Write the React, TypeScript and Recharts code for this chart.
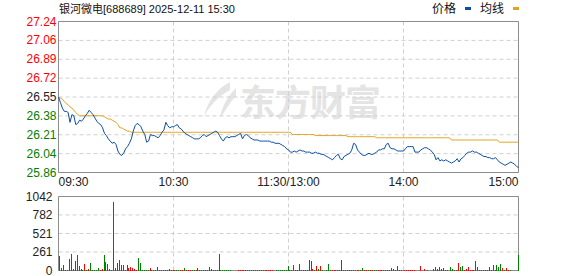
import React from 'react';
import { ComposedChart, Line, Bar, XAxis, YAxis, CartesianGrid, ReferenceArea } from 'recharts';

const title = '银河微电[688689] 2025-12-11 15:30';
const prevClose = 26.55;
const pctRange = 0.0258;
const priceLabels = ['25.86', '26.04', '26.21', '26.38', '26.55', '26.72', '26.89', '27.06', '27.24'];
const pctLabels = ['2.58%', '1.94%', '1.29%', '0.65%', '0.00%', '0.65%', '1.29%', '1.94%', '2.58%'];
const timeTicks = [0, 60, 120, 180, 240];
const timeLabels = ['09:30', '10:30', '11:30/13:00', '14:00', '15:00'];
const volTicks = [0, 261, 521, 782, 1042];

// minute prices, 09:30 .. 15:00 (241 points)
const price = [
  26.55, 26.50, 26.45, 26.42, 26.42, 26.41, 26.32, 26.39, 26.38, 26.30,
  26.31, 26.34, 26.33, 26.35, 26.38, 26.40, 26.43, 26.41, 26.39, 26.36,
  26.33, 26.31, 26.30, 26.27, 26.22, 26.20, 26.17, 26.15, 26.13, 26.14,
  26.12, 26.06, 26.03, 26.02, 26.04, 26.08, 26.10, 26.13, 26.17, 26.24,
  26.29, 26.31, 26.30, 26.28, 26.24, 26.21, 26.14, 26.15, 26.21, 26.20,
  26.20, 26.19, 26.18, 26.20, 26.23, 26.25, 26.32, 26.29, 26.27, 26.28,
  26.28, 26.29, 26.30, 26.27, 26.26, 26.24, 26.22, 26.21, 26.20, 26.19,
  26.18, 26.17, 26.17, 26.17, 26.18, 26.20, 26.21, 26.19, 26.20, 26.21,
  26.22, 26.23, 26.24, 26.23, 26.20, 26.17, 26.15, 26.18, 26.19, 26.18,
  26.19, 26.19, 26.19, 26.20, 26.21, 26.22, 26.17, 26.20, 26.21, 26.20,
  26.18, 26.17, 26.16, 26.16, 26.16, 26.15, 26.15, 26.15, 26.15, 26.15,
  26.15, 26.14, 26.14, 26.13, 26.13, 26.13, 26.12, 26.11, 26.10, 26.08,
  26.07, 26.05, 26.05, 26.06, 26.05, 26.06, 26.07, 26.06, 26.06, 26.05,
  26.05, 26.05, 26.04, 26.04, 26.05, 26.04, 26.04, 26.03, 26.03, 26.02,
  26.01, 26.00, 25.99, 25.98, 26.00, 26.02, 26.03, 25.99, 25.98, 26.01,
  26.02, 26.03, 26.04, 26.07, 26.13, 26.12, 26.07, 26.05, 26.03, 26.02,
  26.02, 26.03, 26.04, 26.03, 26.03, 26.04, 26.05, 26.07, 26.07, 26.08,
  26.08, 26.12, 26.13, 26.09, 26.08, 26.08, 26.07, 26.06, 26.06, 26.06,
  26.06, 26.08, 26.10, 26.10, 26.10, 26.10, 26.05, 26.05, 26.05, 26.07,
  26.08, 26.09, 26.09, 26.08, 26.07, 26.05, 26.03, 25.98, 26.00, 25.97,
  25.98, 25.97, 25.98, 25.97, 25.96, 25.95, 25.96, 25.97, 25.99, 25.96,
  25.99, 26.00, 26.02, 26.04, 26.05, 26.05, 26.06, 26.05, 26.05, 26.04,
  26.03, 26.02, 26.01, 26.01, 26.00, 26.00, 25.99, 25.99, 26.00, 25.98,
  25.96, 25.95, 25.94, 25.93, 25.94, 25.95, 25.96, 25.95, 25.94, 25.92,
  25.91,
];

const avgPrice = [
  26.55, 26.54, 26.53, 26.51, 26.49, 26.48, 26.46, 26.45, 26.43, 26.41,
  26.39, 26.38, 26.38, 26.38, 26.38, 26.38, 26.38, 26.38, 26.38, 26.38,
  26.38, 26.38, 26.38, 26.38, 26.37, 26.36, 26.35, 26.35, 26.34, 26.33,
  26.32, 26.30, 26.27, 26.27, 26.26, 26.25, 26.24, 26.24, 26.23, 26.23,
  26.23, 26.23, 26.23, 26.23, 26.23, 26.23, 26.23, 26.23, 26.23, 26.23,
  26.23, 26.23, 26.23, 26.23, 26.23, 26.23, 26.23, 26.23, 26.23, 26.23,
  26.23, 26.23, 26.23, 26.23, 26.23, 26.23, 26.23, 26.23, 26.23, 26.23,
  26.23, 26.23, 26.23, 26.23, 26.23, 26.23, 26.23, 26.23, 26.23, 26.23,
  26.23, 26.23, 26.23, 26.23, 26.23, 26.23, 26.23, 26.23, 26.23, 26.23,
  26.23, 26.23, 26.23, 26.23, 26.23, 26.23, 26.23, 26.23, 26.23, 26.23,
  26.23, 26.23, 26.23, 26.23, 26.23, 26.23, 26.23, 26.23, 26.23, 26.23,
  26.23, 26.23, 26.23, 26.23, 26.23, 26.23, 26.23, 26.23, 26.23, 26.23,
  26.23, 26.23, 26.21, 26.21, 26.21, 26.21, 26.21, 26.21, 26.21, 26.21,
  26.21, 26.21, 26.21, 26.21, 26.20, 26.20, 26.20, 26.20, 26.20, 26.20,
  26.20, 26.20, 26.20, 26.20, 26.20, 26.20, 26.20, 26.20, 26.20, 26.20,
  26.20, 26.19, 26.19, 26.19, 26.19, 26.19, 26.19, 26.19, 26.19, 26.19,
  26.19, 26.19, 26.19, 26.19, 26.19, 26.19, 26.18, 26.18, 26.18, 26.18,
  26.18, 26.18, 26.18, 26.18, 26.18, 26.18, 26.18, 26.18, 26.18, 26.18,
  26.18, 26.18, 26.18, 26.18, 26.18, 26.18, 26.18, 26.18, 26.18, 26.18,
  26.18, 26.18, 26.18, 26.18, 26.18, 26.18, 26.18, 26.18, 26.18, 26.18,
  26.18, 26.18, 26.18, 26.18, 26.18, 26.16, 26.16, 26.16, 26.16, 26.16,
  26.16, 26.16, 26.16, 26.16, 26.16, 26.16, 26.16, 26.16, 26.16, 26.16,
  26.16, 26.16, 26.16, 26.16, 26.16, 26.16, 26.16, 26.16, 26.16, 26.16,
  26.14, 26.14, 26.14, 26.14, 26.14, 26.14, 26.14, 26.14, 26.14, 26.14,
  26.14,
];

const volume = [
  0, 199, 33, 71, 14, 14, 156, 227, 24, 128,
  213, 62, 24, 14, 85, 14, 24, 104, 14, 14,
  14, 33, 14, 24, 213, 118, 90, 24, 14, 971,
  33, 99, 142, 71, 71, 14, 71, 33, 47, 33,
  24, 14, 175, 99, 14, 14, 14, 14, 33, 14,
  14, 14, 47, 14, 14, 14, 14, 14, 24, 14,
  14, 14, 14, 14, 14, 14, 33, 14, 14, 14,
  14, 14, 14, 33, 14, 14, 14, 14, 14, 47,
  24, 14, 14, 14, 227, 14, 14, 14, 14, 14,
  14, 0, 0, 0, 14, 14, 14, 14, 14, 14,
  14, 14, 14, 14, 14, 14, 14, 14, 14, 14,
  14, 14, 14, 0, 14, 14, 14, 14, 14, 14,
  62, 14, 14, 71, 14, 14, 85, 14, 14, 14,
  14, 142, 128, 24, 14, 62, 24, 62, 14, 0,
  14, 85, 14, 14, 14, 14, 14, 14, 142, 14,
  14, 14, 14, 14, 14, 14, 14, 14, 14, 33,
  14, 14, 14, 14, 14, 14, 14, 14, 14, 14,
  14, 14, 14, 14, 38, 24, 14, 62, 14, 14,
  0, 14, 14, 14, 14, 14, 14, 0, 0, 62,
  0, 24, 0, 14, 0, 0, 24, 47, 24, 47,
  24, 33, 14, 14, 0, 47, 24, 14, 14, 104,
  47, 62, 14, 24, 47, 14, 14, 14, 128, 47,
  14, 14, 14, 14, 14, 47, 14, 71, 14, 71,
  47, 85, 33, 14, 33, 14, 14, 0, 0, 0,
  213,
];

// r = traded up, g = traded down
const volSide = [
  'ggrrgggrgg', 'rrggrgrggg', 'ggrrggggrr', 'ggrrrggrrr', 'rrggggggrr',
  'ggrrrgrrgg', 'rrggrrgrrr', 'ggrgrrrgrr', 'rrgrgggggg', 'ggggrrrrrr',
  'rrrrrrrrrr', 'rrrggggggg', 'ggrrrgrgrg', 'gggrgrgrgg', 'gggrrrrrgr',
  'grrgrgrrgg', 'rrgrrggrrr', 'grrggrrggg', 'grrrrrrrrr', 'rrgggggggg',
  'rgrrggggrr', 'ggrrrrrrgg', 'rrrrrgrgrg', 'ggrgrrgggg', 'g',
].join('');

const minuteData = price.map((p, i) => ({
  t: i,
  price: p,
  avg: avgPrice[i],
  vol: volume[i],
  side: volSide[i],
}));

const lo = prevClose * (1 - pctRange);
const hi = prevClose * (1 + pctRange);
const priceTicks = priceLabels.map((_, i) => lo + ((hi - lo) * i) / (priceLabels.length - 1));

const RED = '#ff0000';
const GREEN = '#008000';
const FONT = '"Liberation Sans", Arial, sans-serif';
const CJK = '"Noto Sans CJK SC", sans-serif';

const labelColor = (i: number, mid: number) => (i > mid ? RED : i < mid ? GREEN : '#222');

const PriceTick = ({ x, y, index }: any) => (
  <text x={x} y={y} dy={4} textAnchor="end" fontSize={12} fontFamily={FONT} fill={labelColor(index, 4)}>
    {priceLabels[index]}
  </text>
);

const PctTick = ({ x, y, index }: any) => (
  <text x={x} y={y} dy={4} textAnchor="start" fontSize={12} fontFamily={FONT} fill={labelColor(index, 4)}>
    {pctLabels[index]}
  </text>
);

const TimeTick = ({ x, y, index }: any) => {
  const anchor = index === 0 ? 'start' : index === timeLabels.length - 1 ? 'end' : 'middle';
  return (
    <text x={x} y={y} dy={13} textAnchor={anchor} fontSize={12} fontFamily={FONT} fill="#222">
      {timeLabels[index]}
    </text>
  );
};

const VolTick = ({ x, y, payload }: any) => (
  <text x={x} y={y} dy={4} textAnchor="end" fontSize={12} fontFamily={FONT} fill="#222">
    {payload.value}
  </text>
);

// 1px crisp volume bar, coloured by trade direction
const VolBar = ({ x, y, width, height, payload }: any) => {
  if (!height || height <= 0) return null;
  const cx = Math.floor(x + width / 2);
  return (
    <rect
      x={cx}
      y={y}
      width={1}
      height={height}
      fill={payload && payload.side === 'r' ? RED : GREEN}
      shapeRendering="crispEdges"
    />
  );
};

const App: React.FC = () => {
  return (
    <div style={{ position: 'absolute', left: 0, top: 0, width: 578, height: 276, background: '#fff', overflow: 'hidden' }}>
      {/* watermark */}
      <div style={{ position: 'absolute', left: 200, top: 74, display: 'flex', alignItems: 'center', color: '#e4e4e4' }}>
        <svg width={38} height={40} viewBox="0 0 38 40">
          <path d="M30 2 C18 8 8 20 4 36 C10 26 18 16 30 10 Z" fill="#e4e4e4" />
          <path d="M36 8 C28 16 22 26 20 38 C26 30 30 22 36 16 Z" fill="#e4e4e4" />
        </svg>
        <span style={{ fontFamily: CJK, fontSize: 36, fontWeight: 700, marginLeft: 2, letterSpacing: -1 }}>东方财富</span>
      </div>

      <div style={{ position: 'absolute', left: 59, top: 1, fontFamily: `"Liberation Sans", ${CJK}`, fontSize: 11, lineHeight: '16px', color: '#111', whiteSpace: 'nowrap' }}>
        {title}
      </div>
      <div style={{ position: 'absolute', left: 432, top: 0, fontFamily: CJK, fontSize: 12, lineHeight: '16px', color: '#111', display: 'flex', alignItems: 'center' }}>
        <span>价格</span>
        <span style={{ display: 'inline-block', width: 6, height: 3, background: '#0b4fa3', margin: '0 9px 0 9px' }} />
        <span>均线</span>
        <span style={{ display: 'inline-block', width: 6, height: 3, background: '#e1a21e', marginLeft: 9 }} />
      </div>

      <div style={{ position: 'absolute', left: 0, top: 0 }}>
        <ComposedChart width={578} height={190} data={minuteData} margin={{ top: 21.5, right: 0.5, bottom: 0, left: 0.5 }}>
          <CartesianGrid stroke="#d0d0d0" strokeDasharray="4 3" />
          <XAxis
            dataKey="t"
            type="number"
            domain={[0, 240]}
            ticks={timeTicks}
            interval={0}
            height={17.5}
            axisLine={false}
            tickLine={false}
            tickSize={0}
            tickMargin={0}
            tick={<TimeTick />}
          />
          <YAxis
            type="number"
            domain={[lo, hi]}
            ticks={priceTicks}
            interval={0}
            width={58}
            axisLine={false}
            tickLine={false}
            tickSize={0}
            tickMargin={2}
            tick={<PriceTick />}
          />
          <YAxis
            yAxisId="pct"
            orientation="right"
            type="number"
            domain={[lo, hi]}
            ticks={priceTicks}
            interval={0}
            width={59}
            axisLine={false}
            tickLine={false}
            tickSize={0}
            tickMargin={5}
            tick={<PctTick />}
          />
          <Line type="linear" dataKey="avg" stroke="#e1a21e" strokeWidth={1} dot={false} isAnimationActive={false} />
          <Line type="linear" dataKey="price" stroke="#0b4fa3" strokeWidth={1} dot={false} isAnimationActive={false} />
          <ReferenceArea x1={0} x2={240} y1={lo} y2={hi} fill="none" stroke="#8c8c8c" strokeWidth={1} />
        </ComposedChart>
      </div>

      <div style={{ position: 'absolute', left: 0, top: 190 }}>
        <ComposedChart width={578} height={86} data={minuteData} margin={{ top: 6.5, right: 59.5, bottom: 5.5, left: 0.5 }}>
          <CartesianGrid stroke="#d0d0d0" strokeDasharray="4 3" />
          <XAxis dataKey="t" type="number" domain={[0, 240]} ticks={timeTicks} interval={0} hide />
          <YAxis
            type="number"
            domain={[0, 1042]}
            ticks={volTicks}
            interval={0}
            width={58}
            axisLine={false}
            tickLine={false}
            tickSize={0}
            tickMargin={6}
            tick={<VolTick />}
          />
          <Bar dataKey="vol" barSize={1} isAnimationActive={false} shape={<VolBar />} />
          <ReferenceArea x1={0} x2={240} y1={0} y2={1042} fill="none" stroke="#8c8c8c" strokeWidth={1} />
        </ComposedChart>
      </div>
    </div>
  );
};

export default App;
